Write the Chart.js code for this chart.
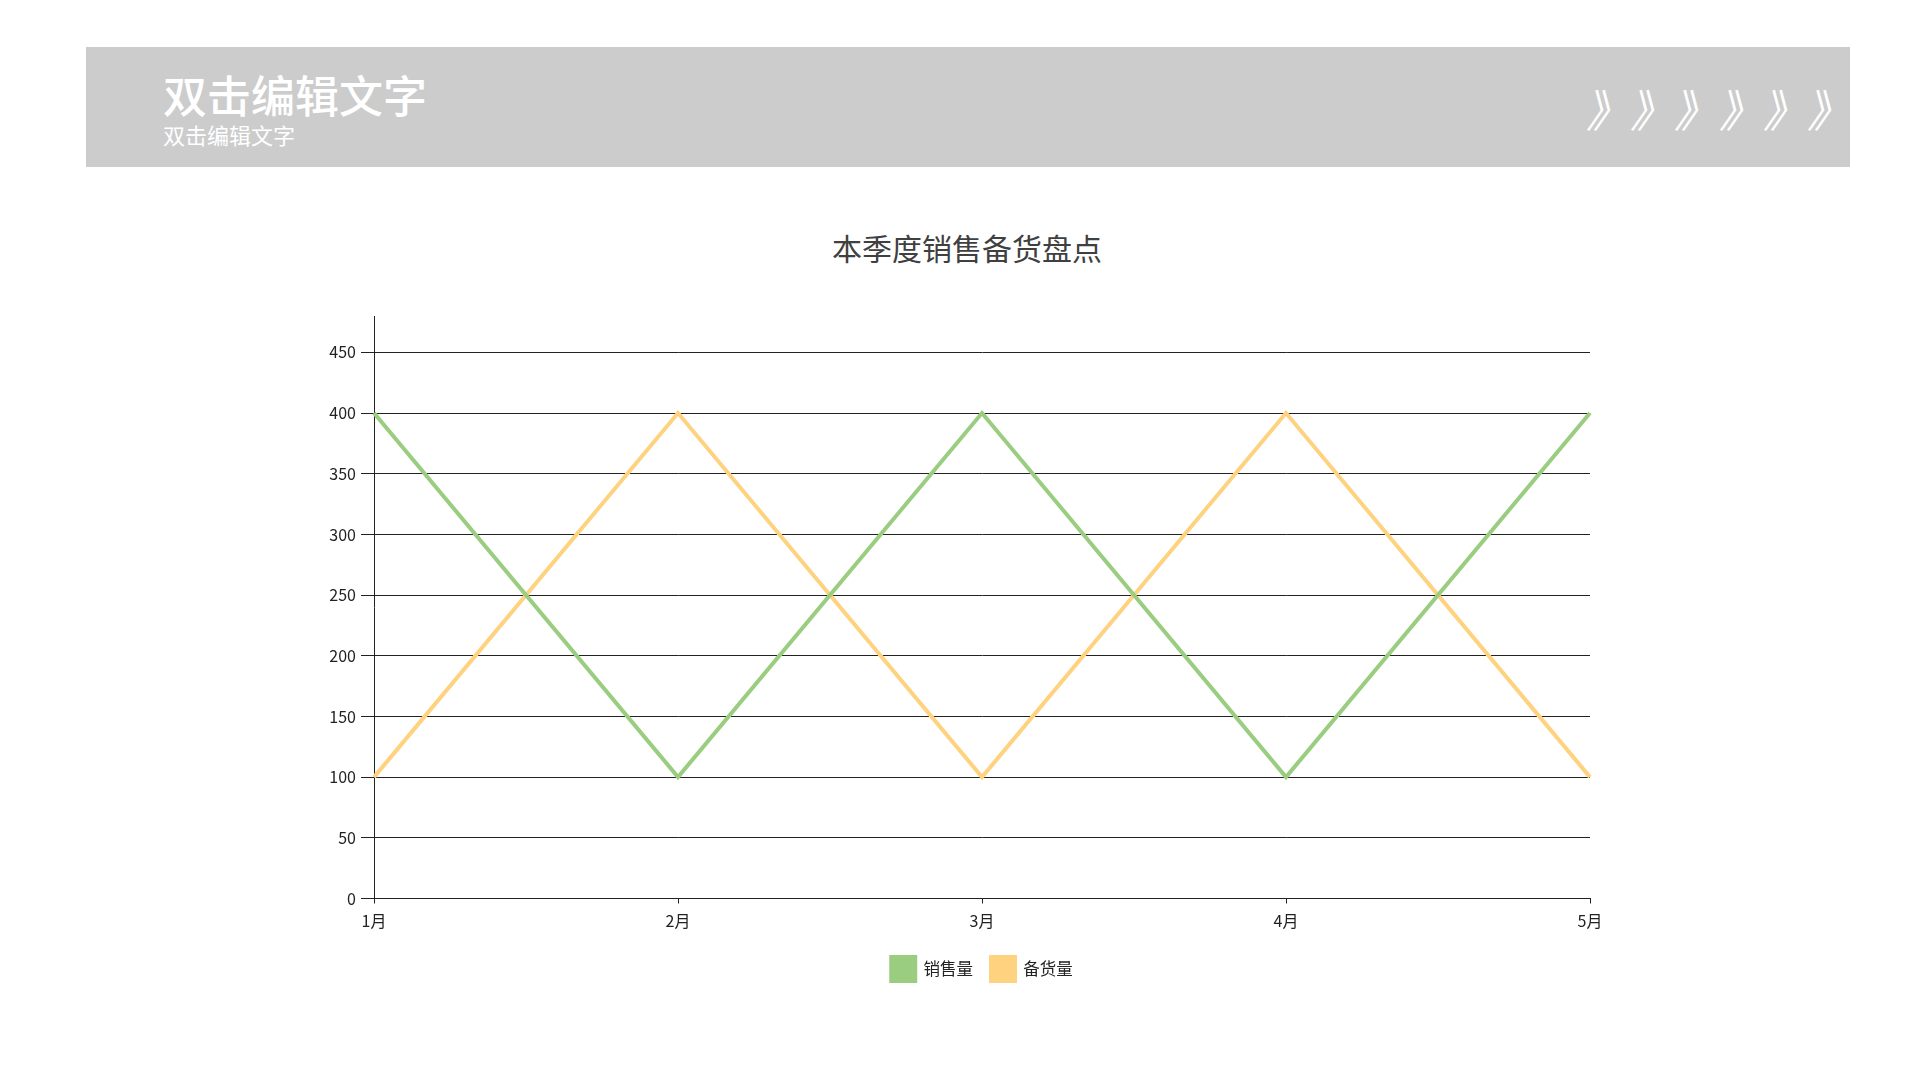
<!DOCTYPE html>
<html>
<head>
<meta charset="utf-8">
<script src="https://cdn.jsdelivr.net/npm/chart.js@4.4.0/dist/chart.umd.min.js"></script>
<style>
  html, body { margin: 0; padding: 0; background: #fff; }
  body { width: 1920px; height: 1080px; position: relative; overflow: hidden; font-family: "Noto Sans CJK SC", "Noto Sans", sans-serif; }
  .banner { position: absolute; left: 86px; top: 47px; width: 1764px; height: 120px; background: #cccccc; }
  .banner-title { position: absolute; left: 163px; top: 72px; font-size: 44px; line-height: 44px; color: #fff; font-weight: 500; }
  .banner-sub { position: absolute; left: 163px; top: 123px; font-size: 22px; line-height: 22px; color: #fff; }
  .chevrons { position: absolute; left: 1590px; top: 84px; display: flex; }
  .chevrons span { width: 44.2px; font-size: 44px; line-height: 48px; color: #fff; transform: skewX(-12deg); display: inline-block; }
  .chart-title { position: absolute; left: 0; width: 1934px; top: 232px; text-align: center; font-size: 30px; line-height: 30px; color: #404040; }
  #wrap { position: absolute; left: 300px; top: 290px; width: 1364px; height: 720px; }
</style>
</head>
<body>
<div class="banner"></div>
<div class="banner-title">双击编辑文字</div>
<div class="banner-sub">双击编辑文字</div>
<div class="chevrons"><span>》</span><span>》</span><span>》</span><span>》</span><span>》</span><span>》</span></div>
<div class="chart-title">本季度销售备货盘点</div>
<div id="wrap"><canvas id="stockChart"></canvas></div>
<script>
const months = ['1月', '2月', '3月', '4月', '5月'];
const salesValues = [400, 100, 400, 100, 400];
const stockValues = [100, 400, 100, 400, 100];
const yMax = 480;
const yStep = 50;

const ctx = document.getElementById('stockChart').getContext('2d');
Chart.defaults.font.family = '"Noto Sans CJK SC", "Noto Sans", sans-serif';

const stockChart = new Chart(ctx, {
  type: 'line',
  data: {
    labels: months,
    datasets: [{
      label: '销售量',
      data: salesValues,
      borderColor: '#9acd80',
      backgroundColor: '#9acd80',
      borderWidth: 4,
      pointRadius: 0,
      tension: 0,
      fill: false,
    }, {
      label: '备货量',
      data: stockValues,
      borderColor: '#ffd280',
      backgroundColor: '#ffd280',
      borderWidth: 4,
      pointRadius: 0,
      tension: 0,
      fill: false,
    }],
  },
  options: {
    responsive: true,
    maintainAspectRatio: false,
    animation: false,
    layout: { padding: { top: 26, right: 0, bottom: 19, left: 0 } },
    plugins: {
      title: { display: false },
      tooltip: { enabled: false },
      legend: {
        display: true,
        position: 'bottom',
        labels: {
          boxWidth: 24,
          boxHeight: 24,
          padding: 18,
          color: '#222',
          font: { size: 16.5 },
        },
      },
    },
    scales: {
      x: {
        offset: false,
        grid: { drawOnChartArea: false, drawTicks: true, tickLength: 5, color: '#222' },
        border: { color: '#222', width: 1 },
        ticks: { color: '#222', font: { size: 16 }, padding: 8, maxRotation: 0 },
        afterFit: scale => { scale.height = 40.5; },
      },
      y: {
        min: 0,
        max: yMax,
        grid: { color: '#222', lineWidth: 1, tickLength: 13 },
        border: { color: '#222', width: 1 },
        ticks: {
          stepSize: yStep,
          color: '#222',
          font: { size: 16 },
          padding: 5,
          callback: value => (value % yStep === 0 ? value : null),
        },
        afterFit: scale => { scale.width = 74; },
      },
      // empty right-hand spacer so the bottom legend is centred under the plot
      spacer: {
        type: 'linear',
        position: 'right',
        display: true,
        grid: { display: false, drawTicks: false },
        border: { display: false },
        ticks: { display: false },
        afterFit: scale => { scale.width = 74; },
      },
    },
  },
});
</script>
</body>
</html>
